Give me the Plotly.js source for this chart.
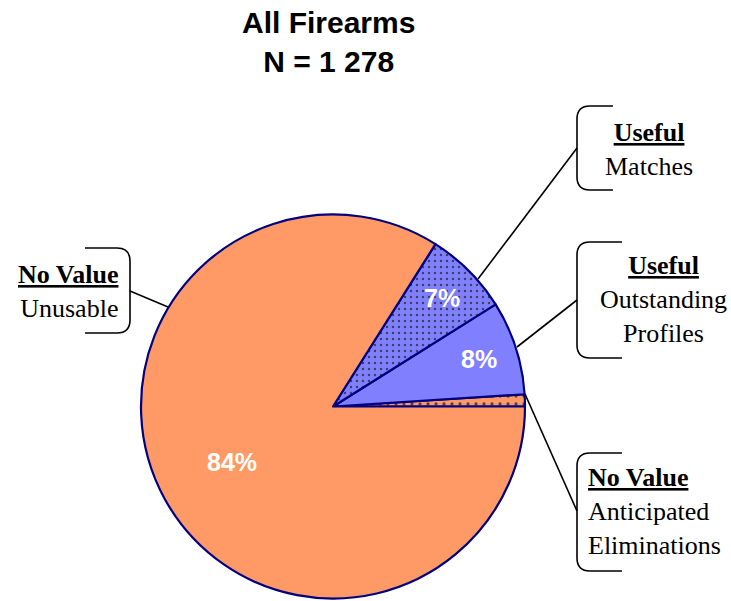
<!DOCTYPE html>
<html>
<head>
<meta charset="utf-8">
<script src="https://cdn.plot.ly/plotly-3.0.1.min.js"></script>
<style>html,body{margin:0;padding:0;background:#fff;}#chart{width:731px;height:601px;}</style>
</head>
<body>
<div id="chart"></div>
<script>
// Data (counts out of N = 1 278), in drawing order counter-clockwise from 3 o'clock
const categories = ["Anticipated Eliminations", "Outstanding Profiles", "Matches", "Unusable"];
const groups = ["No Value", "Useful", "Useful", "No Value"];
const counts = [13, 101, 91, 1073];
const showPct = [false, true, true, true];
const titleLines = ["All Firearms", "N = 1 278"];

const W = 731, H = 601;
const px = x => x / W;
const py = y => 1 - y / H;

const sliceColors = ["#FF9966", "#8080FF", "#8080FF", "#FF9966"];
const patternShapes = [".", "", ".", ""];
const patternSizes = [8, 6, 6, 6];

// pie geometry (pixels)
const CX = 333, CY = 406.5, R = 192;
const total = counts.reduce((a, b) => a + b, 0);

const trace = {
  type: "pie",
  values: counts,
  labels: categories,
  sort: false,
  direction: "counterclockwise",
  // Plotly ends the first counter-clockwise slice at the rotation angle; make it start at 3 o'clock
  rotation: 90 - counts[0] / total * 360,
  domain: {x: [px(CX - R), px(CX + R)], y: [py(CY + R), py(CY - R)]},
  marker: {
    colors: sliceColors,
    line: {color: "#000080", width: 2.2},
    pattern: {
      shape: patternShapes,
      size: patternSizes,
      solidity: 0.13,
      bgcolor: sliceColors,
      fgcolor: "#333348",
      fgopacity: 0.85
    }
  },
  textinfo: "none",
  hoverinfo: "label+value+percent",
  showlegend: false
};

// percentage labels placed along each slice's mid-angle, computed from the data
const pctAnnotations = [];
let cum = 0;
counts.forEach((v, i) => {
  const a0 = cum / total * 2 * Math.PI;
  cum += v;
  const a1 = cum / total * 2 * Math.PI;
  if (!showPct[i]) return;
  const mid = (a0 + a1) / 2;
  const frac = v / total > 0.5 ? 0.6 : 0.8;
  const x = CX + Math.cos(mid) * R * frac;
  const y = CY - Math.sin(mid) * R * frac;
  pctAnnotations.push({
    xref: "paper", yref: "paper", x: px(x), y: py(y), xanchor: "center", yanchor: "middle",
    text: "<b>" + Math.round(v / total * 100) + "%</b>", showarrow: false,
    font: {family: "Arial, 'Liberation Sans', sans-serif", size: 25, color: "#ffffff"}
  });
});

function bracketLeft(x, top, bottom, right, r) {
  return `M ${px(right)},${py(top)} L ${px(x + r)},${py(top)} Q ${px(x)},${py(top)} ${px(x)},${py(top + r)} ` +
         `L ${px(x)},${py(bottom - r)} Q ${px(x)},${py(bottom)} ${px(x + r)},${py(bottom)} L ${px(right)},${py(bottom)}`;
}
function bracketRight(x, top, bottom, left, r) {
  return `M ${px(left)},${py(top)} L ${px(x - r)},${py(top)} Q ${px(x)},${py(top)} ${px(x)},${py(top + r)} ` +
         `L ${px(x)},${py(bottom - r)} Q ${px(x)},${py(bottom)} ${px(x - r)},${py(bottom)} L ${px(left)},${py(bottom)}`;
}
const lineStyle = {color: "#000000", width: 1.6};
const shapes = [
  {type: "path", xref: "paper", yref: "paper", path: bracketLeft(577, 106, 190, 613, 13), line: lineStyle},
  {type: "path", xref: "paper", yref: "paper", path: bracketLeft(577, 242, 358, 622, 13), line: lineStyle},
  {type: "path", xref: "paper", yref: "paper", path: bracketLeft(577, 453, 571, 622, 13), line: lineStyle},
  {type: "path", xref: "paper", yref: "paper", path: bracketRight(130, 248, 333, 85, 13), line: lineStyle},
  {type: "line", xref: "paper", yref: "paper", x0: px(478), y0: py(279), x1: px(577), y1: py(148), line: lineStyle},
  {type: "line", xref: "paper", yref: "paper", x0: px(517), y0: py(347), x1: px(577), y1: py(300), line: lineStyle},
  {type: "line", xref: "paper", yref: "paper", x0: px(525), y0: py(394), x1: px(577), y1: py(511), line: lineStyle},
  {type: "line", xref: "paper", yref: "paper", x0: px(130), y0: py(291), x1: px(168), y1: py(307), line: lineStyle}
];

const serif = {family: "'Liberation Serif', 'Times New Roman', serif", size: 26, color: "#000000"};
function head(i) { return "<b><u>" + groups[i] + "</u></b>"; }
const annotations = [
  {xref: "paper", yref: "paper", x: px(649), y: py(149), xanchor: "center", yanchor: "middle", align: "center",
   text: head(2) + "<br>" + categories[2], showarrow: false, font: serif},
  {xref: "paper", yref: "paper", x: px(663), y: py(299), xanchor: "center", yanchor: "middle", align: "center",
   text: head(1) + "<br>Outstanding<br>Profiles", showarrow: false, font: serif},
  {xref: "paper", yref: "paper", x: px(586), y: py(511), xanchor: "left", yanchor: "middle", align: "left",
   text: head(0) + "<br>Anticipated<br>Eliminations", showarrow: false, font: serif},
  {xref: "paper", yref: "paper", x: px(120), y: py(291), xanchor: "right", yanchor: "middle", align: "right",
   text: head(3) + "<br>" + categories[3], showarrow: false, font: serif},
  {xref: "paper", yref: "paper", x: px(328), y: py(42), xanchor: "center", yanchor: "middle", align: "center",
   text: "<b>" + titleLines.join("<br>") + "</b>", showarrow: false,
   font: {family: "Arial, 'Liberation Sans', sans-serif", size: 30, color: "#000000"}}
].concat(pctAnnotations);

const layout = {
  width: W, height: H,
  margin: {l: 0, r: 0, t: 0, b: 0},
  paper_bgcolor: "#ffffff",
  plot_bgcolor: "#ffffff",
  shapes: shapes,
  annotations: annotations,
  showlegend: false
};

Plotly.newPlot("chart", [trace], layout, {displayModeBar: false, staticPlot: true});
</script>
</body>
</html>
